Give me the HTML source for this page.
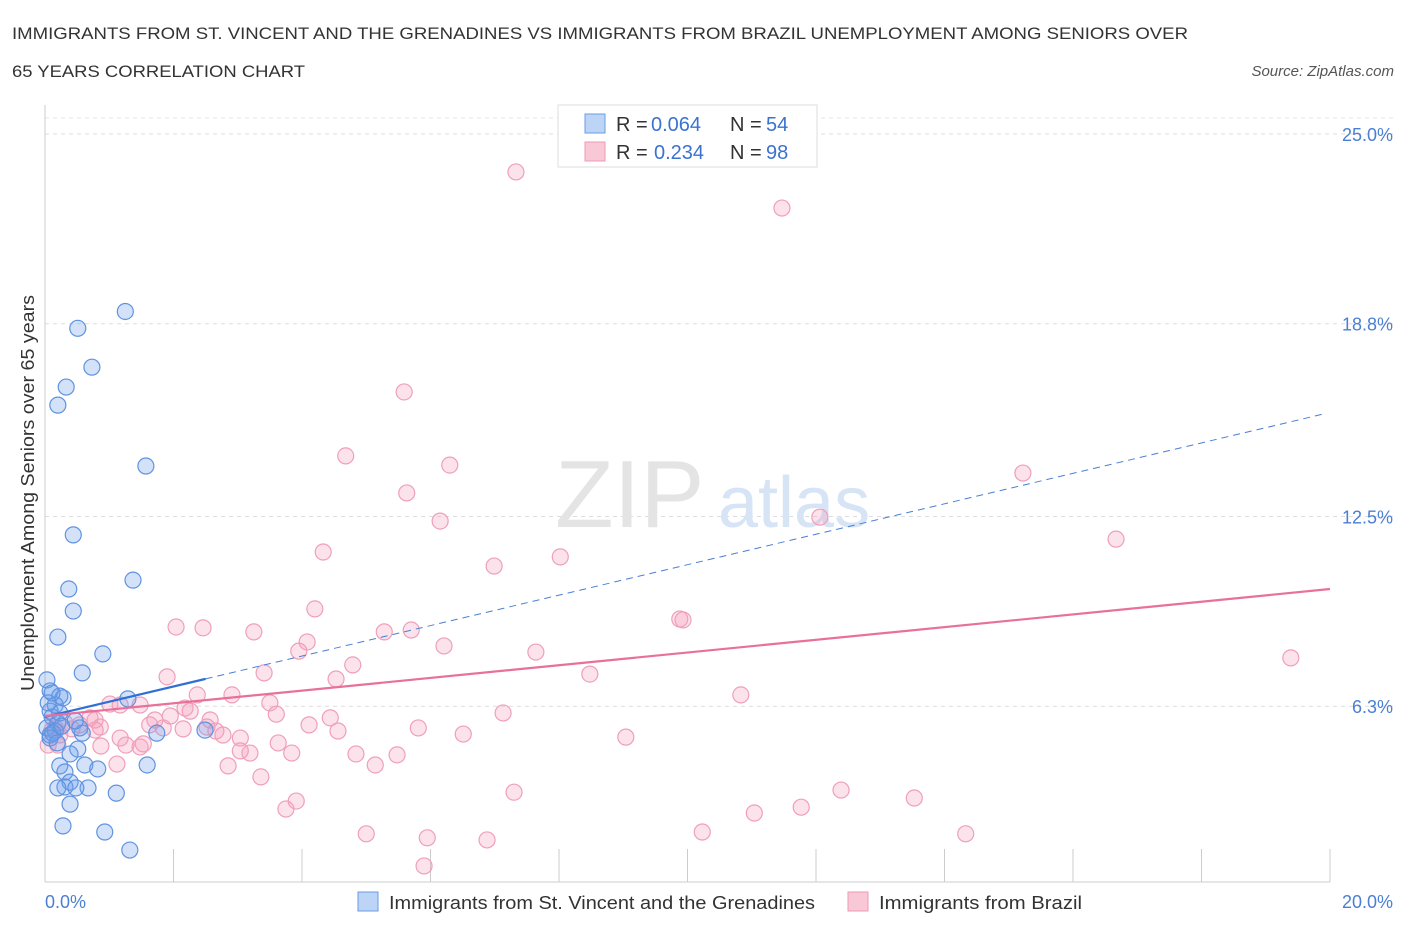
<!DOCTYPE html>
<html><head><meta charset="utf-8"><style>
body{margin:0;background:#fff;font-family:"Liberation Sans",sans-serif;}
svg text{font-family:"Liberation Sans",sans-serif;}
</style></head><body>
<svg id="chart" width="1406" height="930" xmlns="http://www.w3.org/2000/svg">
<text x="12" y="39" font-size="17" fill="#333" textLength="1176" lengthAdjust="spacingAndGlyphs">IMMIGRANTS FROM ST. VINCENT AND THE GRENADINES VS IMMIGRANTS FROM BRAZIL UNEMPLOYMENT AMONG SENIORS OVER</text>
<text x="12" y="77" font-size="17" fill="#333" textLength="293" lengthAdjust="spacingAndGlyphs">65 YEARS CORRELATION CHART</text>
<text x="1394" y="76" font-size="15" fill="#555" font-style="italic" text-anchor="end">Source: ZipAtlas.com</text>
<g id="grid"></g>
<text x="555" y="527" font-size="96" fill="#e4e4e4" font-family="Liberation Serif">ZIP</text>
<text x="718" y="527" font-size="72" fill="#d6e4f5">atlas</text>
<g id="marks"></g>
<text transform="translate(34,493) rotate(-90)" font-size="18" fill="#333" text-anchor="middle" textLength="396" lengthAdjust="spacingAndGlyphs">Unemployment Among Seniors over 65 years</text>
<text x="45" y="908" font-size="18" fill="#4a7fd4">0.0%</text>
<text x="1393" y="908" font-size="18" fill="#4a7fd4" text-anchor="end">20.0%</text>
<g>
<rect x="558" y="105" width="259" height="62" fill="#fff" stroke="#ddd"/>
<rect x="585" y="114" width="20" height="19" fill="#bcd4f6" stroke="#6a9be0"/>
<rect x="585" y="142" width="20" height="19" fill="#f9c8d7" stroke="#ee9ab5"/>
<text x="616" y="131" font-size="20" fill="#333">R =</text>
<text x="651" y="131" font-size="20" fill="#3a72d0">0.064</text>
<text x="730" y="131" font-size="20" fill="#333">N =</text>
<text x="766" y="131" font-size="20" fill="#3a72d0">54</text>
<text x="616" y="159" font-size="20" fill="#333">R =</text>
<text x="654" y="159" font-size="20" fill="#3a72d0">0.234</text>
<text x="730" y="159" font-size="20" fill="#333">N =</text>
<text x="766" y="159" font-size="20" fill="#3a72d0">98</text>
</g>
<g>
<rect x="358" y="892" width="20" height="19" fill="#bcd4f6" stroke="#6a9be0"/>
<text x="389" y="909" font-size="18" fill="#333" textLength="426" lengthAdjust="spacingAndGlyphs">Immigrants from St. Vincent and the Grenadines</text>
<rect x="848" y="892" width="20" height="19" fill="#f9c8d7" stroke="#ee9ab5"/>
<text x="879" y="909" font-size="18" fill="#333" textLength="203" lengthAdjust="spacingAndGlyphs">Immigrants from Brazil</text>
</g>
</svg>
<script>
const yTicks=[25.0,18.8,12.5,6.3];
const yTickLabels=["25.0%","18.8%","12.5%","6.3%"];
const xTicks=[0,2,4,6,8,10,12,14,16,18,20];
const blueX=[1.25,0.51,0.73,0.33,0.2,1.57,0.44,1.37,0.37,0.44,0.2,0.9,0.58,0.03,0.08,0.23,0.28,1.29,0.16,0.08,0.11,0.2,0.03,0.16,0.08,0.58,1.74,2.49,0.51,0.39,0.23,0.62,0.82,1.59,0.31,0.39,0.31,0.2,0.67,0.48,1.11,0.39,0.28,0.93,1.32,0.08,0.12,0.54,0.47,0.23,0.05,0.11,0.19,0.26];
const blueY=[19.2,18.65,17.38,16.73,16.14,14.15,11.9,10.42,10.13,9.41,8.56,8.01,7.39,7.16,6.8,6.63,6.57,6.54,6.34,6.14,5.95,5.75,5.59,5.49,5.36,5.42,5.42,5.52,4.9,4.74,4.35,4.38,4.25,4.38,4.15,3.82,3.66,3.63,3.63,3.63,3.46,3.1,2.39,2.19,1.6,5.26,5.42,5.59,5.82,6.08,6.41,6.73,5.1,5.65];
const pinkX=[7.33,11.47,5.59,4.68,6.3,15.22,5.63,6.15,12.06,16.67,4.33,8.02,6.99,4.2,2.04,2.46,3.25,5.28,5.7,4.08,6.21,9.88,9.93,3.95,7.64,4.79,19.39,3.41,1.9,8.48,4.53,2.37,2.91,10.83,3.5,1.48,1.01,1.17,2.18,2.26,3.6,7.13,0.78,0.31,0.54,0.86,1.63,2.57,4.44,2.52,2.66,1.84,4.11,4.56,5.81,2.77,2.15,3.04,6.51,9.04,3.63,0.87,1.26,1.48,1.53,3.04,3.84,3.19,4.84,5.48,5.14,1.12,2.85,3.36,7.3,12.39,3.91,13.53,3.75,11.77,11.04,10.23,5.0,14.33,5.95,6.88,5.9,0.42,0.16,0.2,0.78,1.17,1.71,1.95,0.11,0.23,0.7,0.05];
const pinkY=[23.76,22.58,16.57,14.48,14.18,13.92,13.27,12.35,12.48,11.76,11.34,11.18,10.88,9.48,8.89,8.86,8.73,8.73,8.79,8.4,8.27,9.15,9.12,8.1,8.07,7.65,7.88,7.39,7.26,7.35,7.19,6.67,6.67,6.67,6.41,6.34,6.37,6.34,6.24,6.14,6.04,6.08,5.85,5.75,5.69,5.62,5.69,5.85,5.92,5.62,5.49,5.59,5.69,5.49,5.59,5.36,5.56,5.26,5.39,5.29,5.1,5.0,5.03,4.97,5.07,4.84,4.77,4.77,4.74,4.71,4.38,4.41,4.35,3.99,3.49,3.56,3.2,3.3,2.94,3.0,2.81,2.19,2.13,2.13,2.0,1.93,1.08,5.56,5.59,5.03,5.52,5.26,5.85,5.98,5.52,5.36,5.92,5.03];
const blueTrend=[5.95,15.9];
const pinkTrend=[5.98,10.13];
const NS="http://www.w3.org/2000/svg";
const X0=45,X1=1330,Y0=899,PX=30.6;
function xs(v){return X0+v/20*(X1-X0);}
function ys(v){return Y0-v*PX;}
function mk(t,a,p){const e=document.createElementNS(NS,t);for(const k in a)e.setAttribute(k,a[k]);p.appendChild(e);return e;}
const grid=document.getElementById('grid'),marks=document.getElementById('marks');
yTicks.forEach((t,i)=>{
const l=mk('line',{x1:45,x2:1395,y1:ys(t),y2:ys(t),stroke:'#ddd','stroke-dasharray':'4,4'},grid);


const tx=mk('text',{x:1393,y:ys(t)+7,'font-size':18,fill:'#4a7fd4','text-anchor':'end'},grid);
tx.textContent=yTickLabels[i];


});
mk('line',{x1:45,x2:1395,y1:118,y2:118,stroke:'#e6e6e6','stroke-dasharray':'4,4'},grid);
const ax=mk('line',{x1:45,x2:1330,y1:882,y2:882,stroke:'#ccc'},grid);


const ay=mk('line',{x1:45,x2:45,y1:105,y2:882,stroke:'#ccc'},grid);


xTicks.forEach(t=>{
const l=mk('line',{x1:xs(t),x2:xs(t),y1:849,y2:882,stroke:'#ccc'},grid);


});
pinkX.forEach((v,i)=>{
const c=mk('circle',{cx:xs(v),cy:ys(pinkY[i]),r:8,fill:'rgba(245,160,190,0.3)',stroke:'#ef9fba','stroke-width':1.2},marks);


});
blueX.forEach((v,i)=>{
const c=mk('circle',{cx:xs(v),cy:ys(blueY[i]),r:8,fill:'rgba(110,160,235,0.3)',stroke:'#5f93e0','stroke-width':1.2},marks);


});
function bl(x){return blueTrend[0]+(blueTrend[1]-blueTrend[0])*x/20;}
const bs=mk('line',{x1:xs(0),y1:ys(bl(0)),x2:xs(2.5),y2:ys(bl(2.5)),stroke:'#2f6fd6','stroke-width':2.2},marks);


const bd=mk('line',{x1:xs(2.5),y1:ys(bl(2.5)),x2:xs(19.93),y2:ys(bl(19.93)),stroke:'#4a7fd4','stroke-width':1,'stroke-dasharray':'7,5'},marks);


const pt=mk('line',{x1:xs(0),y1:ys(pinkTrend[0]),x2:xs(20),y2:ys(pinkTrend[1]),stroke:'#e8709a','stroke-width':2.2},marks);


</script>
</body></html>
